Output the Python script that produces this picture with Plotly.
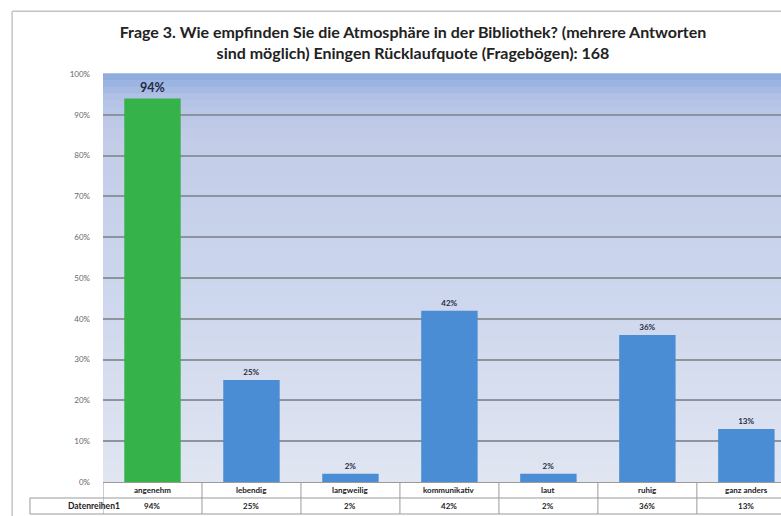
import plotly.graph_objects as go

categories = ["angenehm", "lebendig", "langweilig", "kommunikativ", "laut", "ruhig", "ganz anders"]
values = [94, 25, 2, 42, 2, 36, 13]
bar_colors = ["#35b24a", "#4a8dd4", "#4a8dd4", "#4a8dd4", "#4a8dd4", "#4a8dd4", "#4a8dd4"]
series_name = "Datenreihen1"
y_ticks = [0, 10, 20, 30, 40, 50, 60, 70, 80, 90, 100]
title_text = ("Frage 3. Wie empfinden Sie die Atmosphäre in der Bibliothek? (mehrere Antworten<br>"
              "sind möglich) Eningen Rücklaufquote (Fragebögen): 168")

x_idx = list(range(len(categories)))

label_sizes = [12.5 if i == 0 else 8 for i in x_idx]

fig = go.Figure()
fig.add_trace(go.Bar(
    x=x_idx, y=values, width=0.57,
    marker=dict(color=bar_colors, line=dict(width=0)),
    text=[f"<b>{v}%</b>" for v in values], textposition="outside",
    textfont=dict(family="Lato", size=label_sizes, color="#1f2d44"),
    cliponaxis=False, showlegend=False,
))

# gradient background of plot area
def lerp(c1, c2, t):
    return tuple(int(round(a + (b - a) * t)) for a, b in zip(c1, c2))

stops = [(0.0, (0x8c, 0xaa, 0xdd)), (0.06, (0xb2, 0xc2, 0xe6)), (0.15, (0xc2, 0xcc, 0xe8)),
         (0.5, (0xcb, 0xd5, 0xec)), (1.0, (0xe0, 0xe5, 0xf1))]
shapes = []
N = 60
for k in range(N):
    t = (k + 0.5) / N
    for j in range(len(stops) - 1):
        if stops[j][0] <= t <= stops[j + 1][0]:
            tt = (t - stops[j][0]) / (stops[j + 1][0] - stops[j][0])
            c = lerp(stops[j][1], stops[j + 1][1], tt)
            break
    y1 = 1 - k / N
    y0 = 1 - (k + 1) / N
    shapes.append(dict(type="rect", xref="x domain", yref="y domain", x0=0, x1=1, y0=y0, y1=y1 + 0.002,
                       fillcolor="rgb(%d,%d,%d)" % c, line=dict(width=0), layer="below"))

# data table lines
line_c = "#9a9a9a"
r1 = -0.0392
r2 = -0.0784
left_cell = -0.1077
for i in range(len(categories)):
    shapes.append(dict(type="line", xref="x", yref="paper", x0=i + 0.5, x1=i + 0.5, y0=r2, y1=0,
                       line=dict(color=line_c, width=1)))
shapes.append(dict(type="line", xref="x", yref="paper", x0=-0.5, x1=-0.5, y0=r2, y1=0,
                   line=dict(color=line_c, width=1)))
shapes.append(dict(type="line", xref="paper", yref="paper", x0=left_cell, x1=left_cell, y0=r2, y1=r1,
                   line=dict(color=line_c, width=1)))
shapes.append(dict(type="line", xref="paper", yref="paper", x0=left_cell, x1=1.05, y0=r1, y1=r1,
                   line=dict(color=line_c, width=1)))
shapes.append(dict(type="line", xref="paper", yref="paper", x0=left_cell, x1=1.05, y0=r2, y1=r2,
                   line=dict(color=line_c, width=1)))
# chart frame
shapes.append(dict(type="line", xref="paper", yref="paper", x0=-0.134, x1=-0.134, y0=-0.2, y1=1.154,
                   line=dict(color="#c4c4c4", width=1.5)))
shapes.append(dict(type="line", xref="paper", yref="paper", x0=-0.134, x1=1.1, y0=1.154, y1=1.154,
                   line=dict(color="#c4c4c4", width=1.5)))

annotations = []
for i, (c, v) in enumerate(zip(categories, values)):
    annotations.append(dict(x=i, y=(r1 / 2), xref="x", yref="paper", text="<b>" + c + "</b>", showarrow=False,
                            font=dict(family="Lato", size=8, color="#222"), yanchor="middle"))
    annotations.append(dict(x=i, y=(r1 + r2) / 2, xref="x", yref="paper", text=f"<b>{v}%</b>", showarrow=False,
                            font=dict(family="Lato", size=8, color="#222"), yanchor="middle"))
annotations.append(dict(x=(left_cell + 0) / 2, y=(r1 + r2) / 2, xref="paper", yref="paper",
                        text="<b>" + series_name + "</b>", showarrow=False,
                        font=dict(family="Lato", size=8.5, color="#222"), yanchor="middle"))

fig.update_layout(
    width=781, height=516,
    margin=dict(l=103, r=0, t=74, b=34),
    paper_bgcolor="white", plot_bgcolor="#dfe5f1",
    title=dict(text="<b>" + title_text + "</b>", x=413 / 781, xref="container", xanchor="center",
               y=1 - 38 / 516, yref="container", yanchor="middle",
               font=dict(family="Lato", size=16, color="#222")),
    shapes=shapes, annotations=annotations,
    xaxis=dict(range=[-0.5, 6.35], showticklabels=False, showgrid=False, zeroline=False,
               showline=True, linecolor=line_c, linewidth=1, fixedrange=True),
    yaxis=dict(range=[0, 100], tickvals=y_ticks, ticktext=[f"{t}%" for t in y_ticks],
               showgrid=True, gridcolor="#8f949c", gridwidth=1.5, zeroline=False,
               tickfont=dict(family="Lato", size=8, color="#666"), ticks="", ticklabelstandoff=12,
               showline=False),
    bargap=0.43,
)

fig.write_html("out.html", config={"displayModeBar": False},
               post_script="document.body.style.margin='0';document.body.style.overflow='hidden';")
